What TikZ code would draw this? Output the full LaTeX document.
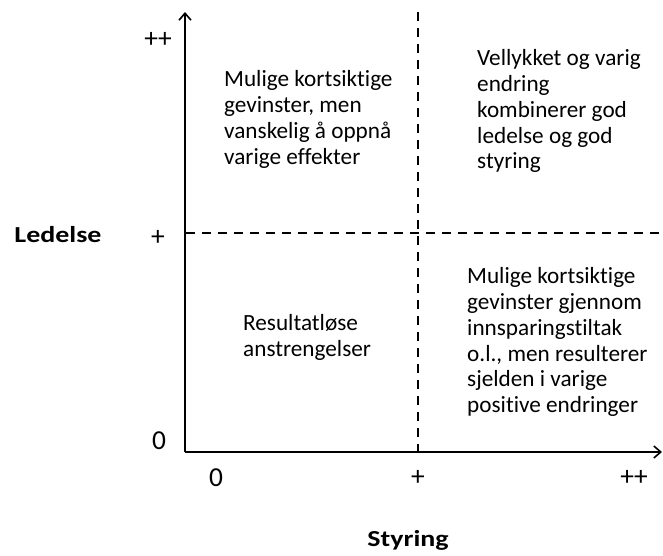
\documentclass[tikz,border=0pt]{standalone}
\usepackage{fontspec}
\setmainfont{Carlito}[Ligatures=NoCommon]
\newfontfamily\widebold{Carlito}[Ligatures=NoCommon,FakeStretch=1.22,UprightFont=*-Bold]
\usetikzlibrary{arrows.meta}
\begin{document}
\begin{tikzpicture}[x=1bp,y=-1bp,
  axis/.style={line width=2.2bp,-{Straight Barb[length=7bp,width=12bp,line width=1.6bp]}},
  divider/.style={line width=2.8bp,dash pattern=on 9bp off 7bp},
  quadtext/.style={anchor=north west,inner sep=0pt,align=left,font=\fontsize{23.3}{26}\selectfont},
  tick/.style={inner sep=0pt,font=\fontsize{27.5}{30}\selectfont},
  axlabel/.style={inner sep=0pt,font=\fontsize{23}{28}\widebold}]
\useasboundingbox (0,0) rectangle (663,556);
% axis frame
\coordinate (origin) at (185,452);
\coordinate (ytip) at (185,12);
\coordinate (xtip) at (662,452);
\coordinate (vtop) at (418,12);
\coordinate (vbot) at (418,452);
\coordinate (hleft) at (186,233);
\coordinate (hright) at (663,233);
\draw[axis] (origin) -- (ytip);
\draw[axis] (origin) -- (xtip);
% quadrant dividers
\draw[divider] (vtop) -- (vbot);
\draw[divider] (hleft) -- (hright);
% tick labels
\node[tick] (ypp) at (158,40) {++};
\node[tick] (yp) at (158,238) {+};
\node[tick] (y0) at (159,441) {0};
\node[tick] (x0) at (216,478) {0};
\node[tick] (xp) at (418,478) {+};
\node[tick] (xpp) at (634,478) {++};
% axis titles
\node[axlabel] (ledelse) at (58,235) {Ledelse};
\node[axlabel] (styring) at (408,540) {Styring};
% quadrant descriptions
\node[quadtext] (q1) at (224,70) {Mulige kortsiktige\\gevinster, men\\vanskelig å oppnå\\varige effekter};
\node[quadtext] (q2) at (477,49) {Vellykket og varig\\endring\\kombinerer god\\ledelse og god\\styring};
\node[quadtext] (q3) at (243,314) {Resultatløse\\anstrengelser};
\node[quadtext] (q4) at (467,267) {Mulige kortsiktige\\gevinster gjennom\\innsparingstiltak\\o.l., men resulterer\\sjelden i varige\\positive endringer};
\end{tikzpicture}
\end{document}
